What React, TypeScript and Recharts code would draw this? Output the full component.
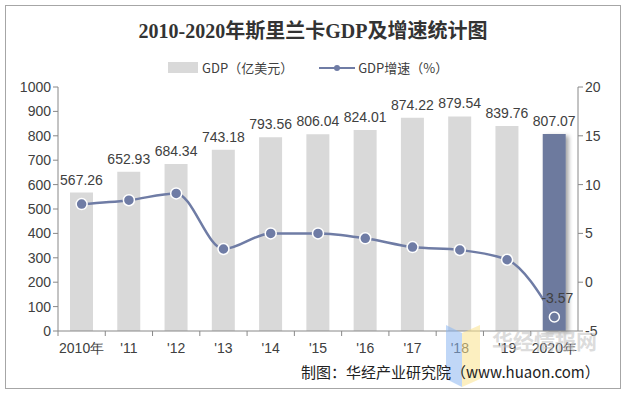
import { ComposedChart, Bar, Line, XAxis, YAxis, Cell, LabelList, Rectangle } from 'recharts'

const YEARS = ['2010年', "'11", "'12", "'13", "'14", "'15", "'16", "'17", "'18", "'19", '2020年']
const GDP = [567.26, 652.93, 684.34, 743.18, 793.56, 806.04, 824.01, 874.22, 879.54, 839.76, 807.07]
const GROWTH = [8.0, 8.4, 9.1, 3.4, 5.0, 5.0, 4.5, 3.6, 3.3, 2.3, -3.57]
const LEFT_TICKS = [0, 100, 200, 300, 400, 500, 600, 700, 800, 900, 1000]
const RIGHT_TICKS = [-5, 0, 5, 10, 15, 20]

const data = YEARS.map((year, i) => ({ year, gdp: GDP[i], growth: GROWTH[i] }))

const BAR_GRAY = '#D9D9D9'
const BAR_DARK = '#6D7A9E'
const LINE_COLOR = '#6F7CA5'
const TEXT = '#404040'
const AXIS_FONT = 'Liberation Sans, Arial, sans-serif'
const CJK = '"Noto Sans CJK SC", sans-serif'

const XTick = (props: any) => {
  const { x, y, payload } = props
  const half = 520 / 11 / 2
  return (
    <g>
      <line x1={x - half} y1={y - 8} x2={x - half} y2={y - 3} stroke="#888" />
      <text x={x} y={y + 14} textAnchor="middle" fontSize={14} fill={TEXT} fontFamily={AXIS_FONT}>
        {payload.value}
      </text>
    </g>
  )
}

const GrowthDot = (props: any) => {
  const { cx, cy, index } = props
  if (index === GROWTH.length - 1) {
    return <circle key={index} cx={cx} cy={cy} r={5} fill={BAR_DARK} stroke="#fff" strokeWidth={1.5} />
  }
  return <circle key={index} cx={cx} cy={cy} r={5.5} fill={LINE_COLOR} stroke="#fff" strokeWidth={1.5} />
}

const GrowthLabel = (props: any) => {
  const { x, y, index, value } = props
  if (index !== GROWTH.length - 1) return null
  return (
    <text x={x + 3} y={y - 14} textAnchor="middle" fontSize={14} fill={TEXT} fontFamily={AXIS_FONT}>
      {value}
    </text>
  )
}

const BarShape = (props: any) => {
  const { index } = props
  if (index === GDP.length - 1) {
    return <Rectangle {...props} filter="url(#barShadow)" />
  }
  return <Rectangle {...props} />
}

export default function App() {
  return (
    <div style={{ position: 'absolute', left: 0, top: 0, width: 626, height: 393, background: '#fff' }}>
      <div
        style={{
          position: 'absolute',
          left: 5,
          top: 5,
          width: 614,
          height: 382,
          border: '1px solid #a6a6a6',
        }}
      />
      <div
        style={{
          position: 'absolute',
          left: 0,
          width: 626,
          top: 15,
          textAlign: 'center',
          fontFamily: '"Liberation Serif", "Noto Sans CJK SC", serif',
          fontWeight: 'bold',
          fontSize: 20,
          color: '#333',
        }}
      >
        2010-2020年斯里兰卡GDP及增速统计图
      </div>
      <div
        style={{
          position: 'absolute',
          top: 58,
          left: 168,
          display: 'flex',
          alignItems: 'center',
          fontFamily: CJK,
          fontSize: 13,
          color: TEXT,
        }}
      >
        <span style={{ display: 'inline-block', width: 30, height: 11, background: BAR_GRAY, marginRight: 4 }} />
        <span>GDP（亿美元）</span>
        <svg width={36} height={12} style={{ marginLeft: 26, marginRight: 3 }}>
          <line x1={0} y1={6} x2={36} y2={6} stroke={LINE_COLOR} strokeWidth={2} />
          <circle cx={18} cy={6} r={3} fill={LINE_COLOR} />
        </svg>
        <span>GDP增速（%）</span>
      </div>
      <div style={{ position: 'absolute', left: 0, top: 0 }}>
        <ComposedChart
          width={626}
          height={393}
          data={data}
          margin={{ top: 87, right: 0, bottom: 32, left: 0 }}
        >
          <defs>
            <filter id="barShadow" x="-30%" y="-10%" width="160%" height="130%">
              <feDropShadow dx={3} dy={2} stdDeviation={2} floodColor="#000" floodOpacity={0.35} />
            </filter>
          </defs>
          <XAxis
            dataKey="year"
            height={30}
            tick={<XTick />}
            tickLine={false}
            axisLine={{ stroke: '#888' }}
            interval={0}
          />
          <YAxis
            yAxisId="left"
            width={58}
            domain={[0, 1000]}
            ticks={LEFT_TICKS}
            tick={{ fontSize: 14, fill: TEXT, fontFamily: AXIS_FONT }}
            tickLine={{ stroke: '#888' }}
            tickSize={5}
            axisLine={{ stroke: '#888' }}
            interval={0}
          />
          <YAxis
            yAxisId="right"
            orientation="right"
            width={48}
            domain={[-5, 20]}
            ticks={RIGHT_TICKS}
            tick={{ fontSize: 14, fill: TEXT, fontFamily: AXIS_FONT }}
            tickLine={{ stroke: '#888' }}
            tickSize={5}
            axisLine={{ stroke: '#888' }}
            interval={0}
          />
          <Bar yAxisId="left" dataKey="gdp" barSize={23} isAnimationActive={false} shape={<BarShape />}>
            {data.map((d, i) => (
              <Cell key={d.year} fill={i === data.length - 1 ? BAR_DARK : BAR_GRAY} />
            ))}
            <LabelList
              dataKey="gdp"
              position="top"
              offset={8}
              style={{ fontSize: 14, fill: TEXT, fontFamily: AXIS_FONT }}
            />
          </Bar>
          <Line
            yAxisId="right"
            type="monotone"
            dataKey="growth"
            stroke={LINE_COLOR}
            strokeWidth={2.5}
            dot={<GrowthDot />}
            activeDot={false}
            isAnimationActive={false}
          >
            <LabelList dataKey="growth" content={<GrowthLabel />} />
          </Line>
        </ComposedChart>
      </div>
      <svg width={40} height={62} style={{ position: 'absolute', left: 446, top: 325, opacity: 0.55 }}>
        <polygon points="0,0 16,8 16,62 0,54" fill="#8DB8F2" />
        <polygon points="16,8 34,0 34,54 16,62" fill="#FBE38E" />
      </svg>
      <div
        style={{
          position: 'absolute',
          top: 328,
          left: 492,
          fontFamily: CJK,
          fontSize: 21,
          fontWeight: 'bold',
          lineHeight: '24px',
          color: 'rgba(190,190,190,0.55)',
        }}
      >
        华经情报网
      </div>
      <div
        style={{
          position: 'absolute',
          top: 361,
          left: 301,
          fontFamily: CJK,
          fontSize: 15,
          color: '#222',
          whiteSpace: 'nowrap',
        }}
      >
        制图：华经产业研究院（www.huaon.com）
      </div>
    </div>
  )
}
